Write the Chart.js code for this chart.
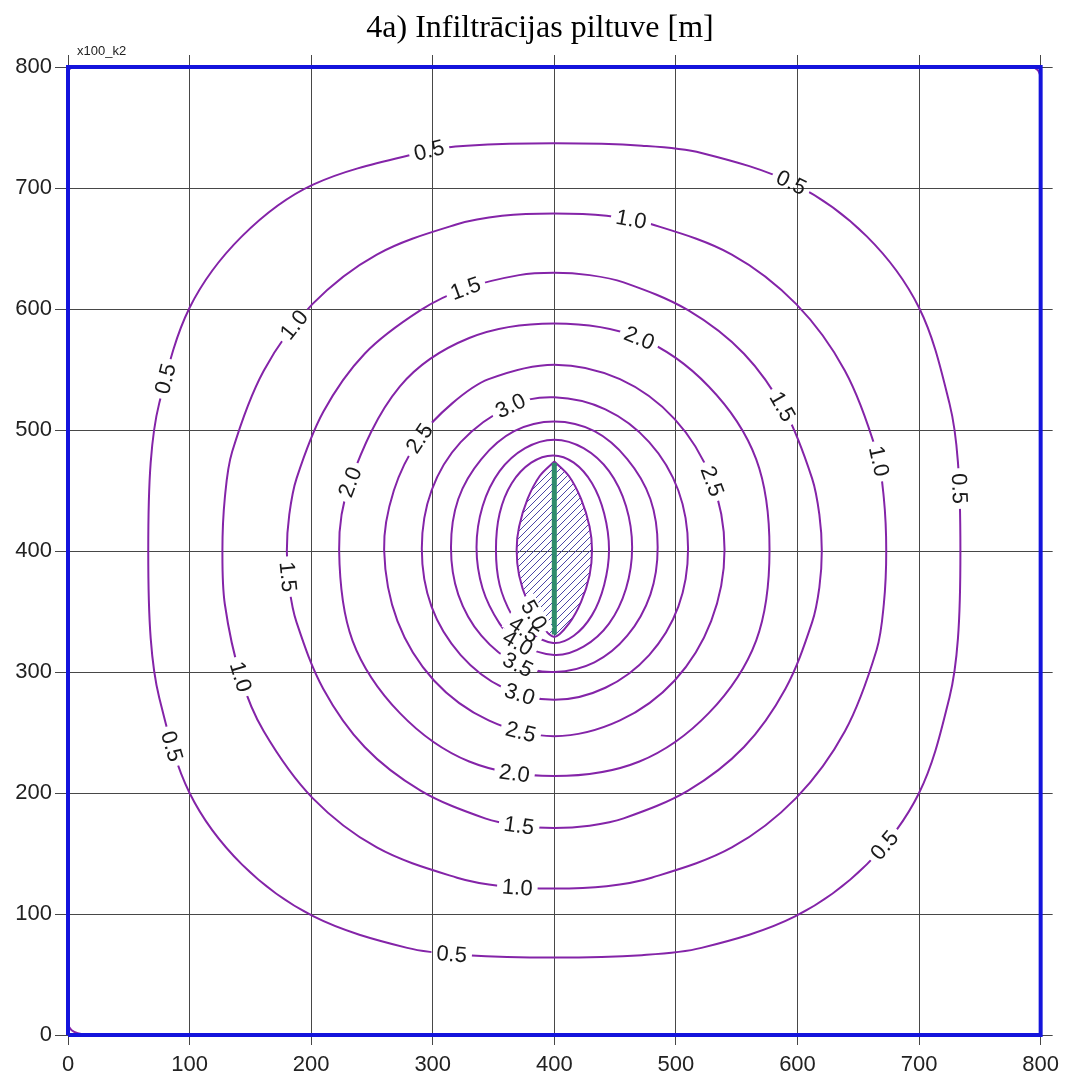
<!DOCTYPE html>
<html>
<head>
<meta charset="utf-8">
<script src="https://cdn.jsdelivr.net/npm/chart.js@4/dist/chart.umd.min.js"></script>
<style>
  html, body { margin: 0; padding: 0; background: #ffffff; }
  canvas { display: block; }
</style>
</head>
<body>
<canvas id="chart" width="1066" height="1075"></canvas>
<script>
// Axis tick values (metres)
const xTickValues = [0, 100, 200, 300, 400, 500, 600, 700, 800];
const yTickValues = [0, 100, 200, 300, 400, 500, 600, 700, 800];

// Contour levels of the drawdown [m]
const contourLevels = ['0.5', '1.0', '1.5', '2.0', '2.5', '3.0', '3.5', '4.0', '4.5', '5.0'];

// Isoline vertices [x, y]; each ring ends where it starts
const contour05 = [[297,731],[202,703],[143,660],[100,601],[75,522],[68,473],[66,400],[68,328],[75,279],[100,200],[143,141],[202,98],[279,72],[328,66],[400,64],[472,66],[521,72],[598,98],[657,141],[700,200],[725,279],[732,328],[734,400],[732,473],[725,522],[700,601],[657,660],[598,703],[521,729],[472,735],[400,737],[328,735],[297,731]];
const contour10 = [[142,296],[161,251],[201,196],[254,155],[320,130],[357,123],[400,121],[443,123],[480,130],[546,155],[599,196],[639,251],[665,318],[671,356],[673,400],[671,444],[665,482],[639,549],[599,604],[546,645],[480,670],[443,677],[400,679],[357,677],[320,670],[254,645],[201,604],[161,549],[135,482],[129,444],[127,400],[129,356],[142,296]];
const contour15 = [[327,617],[290,599],[244,563],[210,515],[188,460],[182,430],[180,400],[182,370],[188,341],[210,286],[244,238],[290,202],[343,179],[371,173],[400,171],[429,173],[457,179],[510,202],[556,238],[590,286],[612,341],[618,370],[620,400],[618,430],[612,460],[590,515],[556,563],[510,599],[457,622],[429,628],[400,630],[371,628],[327,617]];
const contour20 = [[232,457],[223,401],[234,326],[273,266],[330,226],[400,214],[470,226],[527,266],[566,326],[577,401],[566,476],[527,536],[470,576],[400,588],[330,576],[273,536],[232,457]];
const contour25 = [[289,493],[268,450],[260,401],[271,342],[301,293],[346,260],[400,247],[454,260],[499,293],[529,342],[540,401],[529,460],[499,509],[454,542],[400,554],[346,542],[316,522],[289,493]];
const contour30 = [[364,520],[323,490],[299,450],[291,402],[299,354],[323,314],[358,287],[400,277],[442,287],[478,314],[502,354],[510,402],[502,450],[478,490],[442,517],[400,527],[364,520]];
const contour35 = [[370,306],[400,300],[433,308],[460,330],[479,364],[485,403],[479,443],[460,476],[433,499],[400,507],[367,499],[340,476],[321,443],[315,403],[321,364],[340,330],[370,306]];
const contour40 = [[370,324],[400,314],[424,321],[445,340],[459,369],[464,403],[459,437],[445,466],[424,485],[400,492],[376,485],[355,466],[341,437],[336,403],[341,369],[355,340],[370,324]];
const contour45 = [[375,335],[399,324],[416,330],[431,347],[441,372],[445,401],[441,431],[431,456],[416,473],[399,479],[381,473],[365,456],[355,431],[352,401],[355,372],[365,347],[375,335]];
const contour50 = [[400,474],[412,462],[422,443],[429,420],[431,401],[429,380],[422,358],[412,340],[400,329],[388,340],[378,358],[371,380],[369,401],[371,420],[378,443],[388,462],[400,474]];

// Small isoline pieces in the corners of the model
const cornerBottomLeft = [[0,8],[3,4],[8,1.5],[15,0]];
const cornerTopLeft = [[0,795],[1.5,798.5],[5,800]];
const cornerTopRight = [[794,800],[798,797],[800,792]];

// Model boundary and infiltration trench
const modelBoundary = [[0,0],[800,0],[800,800],[0,800],[0,0]];
const trenchLine = [[400,331],[400,473]];

// Inline isoline labels: [level, x, y]
const contourLabels = [
  ['0.5',297,730],['0.5',593,702],['0.5',82,541],['0.5',730,450],['0.5',86,239],['0.5',315,69],['0.5',671,158],
  ['1.0',463,673],['1.0',186,588],['1.0',142,296],['1.0',663,473],['1.0',370,124],
  ['1.5',327,617],['1.5',180,379],['1.5',590,521],['1.5',371,174],
  ['2.0',468,573],['2.0',232,457],['2.0',367,218],
  ['2.5',289,493],['2.5',529,457],['2.5',372,250],
  ['3.0',364,520],['3.0',371,281],
  ['3.5',370,306],
  ['4.0',370,324],
  ['4.5',375,335],
  ['5.0',383,347]
];

const TITLE = '4a) Infiltrācijas piltuve [m]';
const RUN_NAME = 'x100_k2';

const PURPLE = '#8424a8';
const GRID = '#474747';
const SANS = '"Liberation Sans", Arial, sans-serif';
const LABEL_FONT = '22px ' + SANS;
const TENSION = 0.34;

const toXY = pts => pts.map(([x, y]) => ({ x, y }));

// A ring is drawn with one extra vertex on each side so the spline closes smoothly;
// the two extra spans are left unpainted.
function ringData(pts) {
  const n = pts.length;
  return [pts[n - 2], ...pts, pts[1]];
}

function hatchPattern() {
  const c = document.createElement('canvas');
  c.width = 7; c.height = 7;
  const g = c.getContext('2d');
  g.strokeStyle = '#4a46a6';
  g.lineWidth = 1;
  g.beginPath();
  g.moveTo(-1, 8); g.lineTo(8, -1);
  g.moveTo(-1, 1); g.lineTo(1, -1);
  g.moveTo(6, 8); g.lineTo(8, 6);
  g.stroke();
  return g.createPattern(c, 'repeat');
}

const contourSeries = [contour05, contour10, contour15, contour20, contour25,
                       contour30, contour35, contour40, contour45, contour50];

const datasets = [
  { label: 'boundary', data: toXY(modelBoundary), borderColor: '#1414dc',
    borderWidth: 4, pointRadius: 0, tension: 0, clip: false, order: 0 },
  { label: 'trench', data: toXY(trenchLine), borderColor: '#2f8c6c',
    borderWidth: 5, pointRadius: 0, tension: 0, order: 1 },
  ...contourSeries.map((pts, i) => {
    const hatched = i === contourSeries.length - 1;
    const data = hatched ? pts : ringData(pts);
    const last = data.length - 1;
    return {
      label: contourLevels[i],
      wrapped: !hatched,
      data: toXY(data),
      borderColor: PURPLE,
      borderWidth: 2,
      pointRadius: 0,
      tension: TENSION,
      fill: hatched ? 'shape' : false,
      backgroundColor: hatched ? hatchPattern() : 'transparent',
      segment: hatched ? undefined : {
        borderColor: c => (c.p0DataIndex === 0 || c.p1DataIndex === last) ? 'rgba(0,0,0,0)' : undefined
      },
      order: 2
    };
  }),
  ...[cornerBottomLeft, cornerTopLeft, cornerTopRight].map(pts => ({
    label: 'corner', data: toXY(pts), borderColor: PURPLE,
    borderWidth: 2, pointRadius: 0, tension: TENSION, order: 3
  }))
];

// Finds where each label sits on its drawn isoline and the isoline direction there
function labelGeometry(chart) {
  const ctx = chart.ctx;
  ctx.save();
  ctx.font = LABEL_FONT;
  const out = [];
  const xs = chart.scales.x, ys = chart.scales.y;
  for (const [text, lx, ly] of contourLabels) {
    const idx = chart.data.datasets.findIndex(d => d.label === text);
    const skip = chart.data.datasets[idx].wrapped ? 1 : 0;
    const meta = chart.getDatasetMeta(idx);
    if (meta.dataset && meta.dataset.updateControlPoints) {
      meta.dataset.updateControlPoints(chart.chartArea, 'x');
    }
    const pts = meta.data;
    const ax = xs.getPixelForValue(lx), ay = ys.getPixelForValue(ly);
    let best = null;
    for (let i = skip; i < pts.length - 1 - skip; i++) {
      const p0 = pts[i], p3 = pts[i + 1];
      const c1x = p0.cp2x ?? p0.x, c1y = p0.cp2y ?? p0.y;
      const c2x = p3.cp1x ?? p3.x, c2y = p3.cp1y ?? p3.y;
      for (let s = 0; s <= 24; s++) {
        const t = s / 24, u = 1 - t;
        const x = u*u*u*p0.x + 3*u*u*t*c1x + 3*u*t*t*c2x + t*t*t*p3.x;
        const y = u*u*u*p0.y + 3*u*u*t*c1y + 3*u*t*t*c2y + t*t*t*p3.y;
        const d = (x - ax) ** 2 + (y - ay) ** 2;
        if (!best || d < best.d) {
          let dx = 3*u*u*(c1x - p0.x) + 6*u*t*(c2x - c1x) + 3*t*t*(p3.x - c2x);
          let dy = 3*u*u*(c1y - p0.y) + 6*u*t*(c2y - c1y) + 3*t*t*(p3.y - c2y);
          if (Math.abs(dx) + Math.abs(dy) < 1e-6) { dx = p3.x - p0.x; dy = p3.y - p0.y; }
          best = { d, x, y, dx, dy };
        }
      }
    }
    let ang = Math.atan2(best.dy, best.dx);
    if (ang > Math.PI / 2) ang -= Math.PI;
    if (ang <= -Math.PI / 2) ang += Math.PI;
    out.push({ text, x: best.x, y: best.y, ang, w: ctx.measureText(text).width });
  }
  ctx.restore();
  return out;
}

const isolineLabels = {
  id: 'isolineLabels',
  beforeDatasetsDraw(chart) {
    const geo = labelGeometry(chart);
    chart.$labelGeo = geo;
    const ctx = chart.ctx;
    ctx.save();
    ctx.beginPath();
    ctx.rect(0, 0, chart.width, chart.height);
    for (const L of geo) {
      const hw = L.w / 2 + 5, hh = 10;
      const c = Math.cos(L.ang), s = Math.sin(L.ang);
      const corners = [[-hw, -hh], [hw, -hh], [hw, hh], [-hw, hh]]
        .map(([u, v]) => [L.x + u * c - v * s, L.y + u * s + v * c]);
      ctx.moveTo(corners[0][0], corners[0][1]);
      for (let k = 1; k < 4; k++) ctx.lineTo(corners[k][0], corners[k][1]);
      ctx.closePath();
    }
    ctx.clip('evenodd');
  },
  afterDatasetsDraw(chart) {
    const ctx = chart.ctx;
    ctx.restore();
    ctx.save();
    ctx.font = LABEL_FONT;
    ctx.fillStyle = '#1a1a1a';
    ctx.textAlign = 'center';
    ctx.textBaseline = 'middle';
    for (const L of chart.$labelGeo || []) {
      ctx.save();
      ctx.translate(L.x, L.y);
      ctx.rotate(L.ang);
      ctx.fillText(L.text, 0, 1);
      ctx.restore();
    }
    ctx.restore();
  },
  afterDraw(chart) {
    const ctx = chart.ctx;
    ctx.save();
    ctx.font = '13px ' + SANS;
    ctx.fillStyle = '#222';
    ctx.textAlign = 'left';
    ctx.textBaseline = 'alphabetic';
    ctx.fillText(RUN_NAME, chart.chartArea.left + 9, chart.chartArea.top - 12);
    ctx.restore();
  }
};

const tickFont = { family: SANS, size: 22 };

function fixedTicks(values) {
  return scale => { scale.ticks = values.map(v => ({ value: v })); };
}

new Chart(document.getElementById('chart'), {
  type: 'line',
  data: { datasets },
  plugins: [isolineLabels],
  options: {
    responsive: false,
    animation: false,
    devicePixelRatio: 1,
    layout: { padding: { left: 14 } },
    events: [],
    plugins: {
      legend: { display: false },
      tooltip: { enabled: false },
      title: {
        display: true,
        text: TITLE,
        color: '#000',
        font: { family: '"Liberation Serif", "Times New Roman", serif', size: 32, weight: 'normal', lineHeight: 1.25 },
        padding: { top: 9, bottom: 0 }
      }
    },
    scales: {
      x: {
        type: 'linear', position: 'bottom', min: 0, max: 800,
        afterBuildTicks: fixedTicks(xTickValues),
        ticks: { font: tickFont, color: '#222', padding: 7, maxRotation: 0, autoSkip: false },
        grid: { color: GRID, lineWidth: 1, tickLength: 10 },
        border: { color: GRID },
        afterFit: s => { s.height = 40; }
      },
      y: {
        type: 'linear', position: 'left', min: 0, max: 800,
        afterBuildTicks: fixedTicks(yTickValues),
        ticks: { font: tickFont, color: '#222', padding: 3, autoSkip: false },
        grid: { color: GRID, lineWidth: 1, tickLength: 13 },
        border: { color: GRID },
        afterFit: s => { s.width = 54; }
      },
      x2: {
        type: 'linear', position: 'top', min: 0, max: 800,
        afterBuildTicks: fixedTicks(xTickValues),
        ticks: { display: false },
        grid: { color: GRID, lineWidth: 1, tickLength: 12, drawOnChartArea: false },
        border: { color: GRID },
        afterFit: s => { s.height = 18; }
      },
      y2: {
        type: 'linear', position: 'right', min: 0, max: 800,
        afterBuildTicks: fixedTicks(yTickValues),
        ticks: { display: false },
        grid: { color: GRID, lineWidth: 1, tickLength: 12, drawOnChartArea: false },
        border: { color: GRID },
        afterFit: s => { s.width = 24; }
      }
    }
  }
});
</script>
</body>
</html>
